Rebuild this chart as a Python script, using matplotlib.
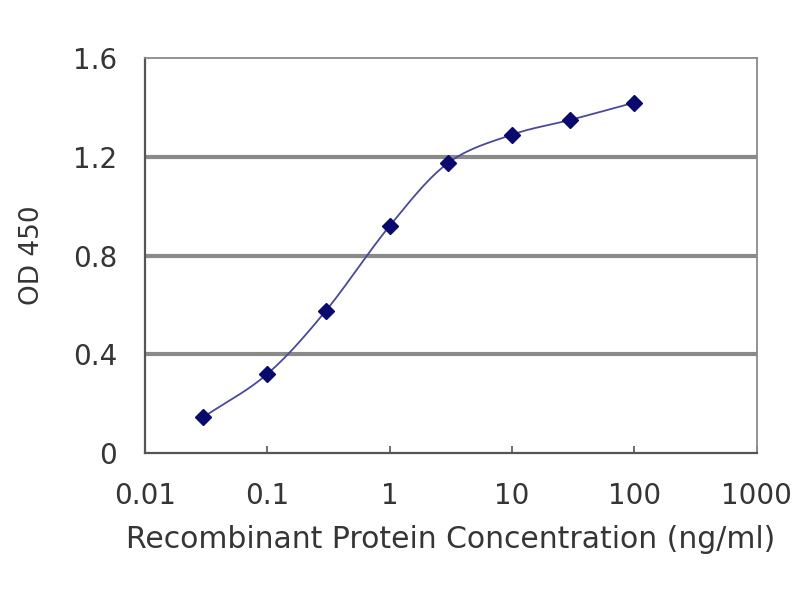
import numpy as np
import matplotlib
matplotlib.use("Agg")
import matplotlib.pyplot as plt

plt.rcParams['font.family'] = ['DejaVu Sans']

# concentration (ng/ml) and OD 450 readings
conc = [0.03, 0.1, 0.3, 1, 3, 10, 30, 100]
od450 = [0.145, 0.32, 0.575, 0.92, 1.175, 1.29, 1.35, 1.42]
xticks = [0.01, 0.1, 1, 10, 100, 1000]
xtick_labels = ['0.01', '0.1', '1', '10', '100', '1000']
yticks = [0, 0.4, 0.8, 1.2, 1.6]
ytick_labels = ['0', '0.4', '0.8', '1.2', '1.6']


def smooth_curve(x, y, n=30):
    # Catmull-Rom style smoothing (like spreadsheet "smoothed line"), done in log-x space
    lx = np.log10(x)
    y = np.asarray(y, dtype=float)
    px = np.concatenate([[2 * lx[0] - lx[1]], lx, [2 * lx[-1] - lx[-2]]])
    py = np.concatenate([[2 * y[0] - y[1]], y, [2 * y[-1] - y[-2]]])
    out_x, out_y = [], []
    t = np.linspace(0, 1, n)
    for i in range(1, len(px) - 2):
        p0x, p1x, p2x, p3x = px[i - 1:i + 3]
        p0y, p1y, p2y, p3y = py[i - 1:i + 3]
        c1x, c1y = p1x + (p2x - p0x) / 6, p1y + (p2y - p0y) / 6
        c2x, c2y = p2x - (p3x - p1x) / 6, p2y - (p3y - p1y) / 6
        bx = (1-t)**3*p1x + 3*(1-t)**2*t*c1x + 3*(1-t)*t**2*c2x + t**3*p2x
        by = (1-t)**3*p1y + 3*(1-t)**2*t*c1y + 3*(1-t)*t**2*c2y + t**3*p2y
        out_x.append(bx)
        out_y.append(by)
    return 10 ** np.concatenate(out_x), np.concatenate(out_y)


fig = plt.figure(figsize=(8, 6), dpi=100)
ax = fig.add_axes([0.181, 0.245, 0.765, 0.658])

ax.set_xscale('log')
ax.set_xlim(0.01, 1000)
ax.set_ylim(0, 1.6)

for yv in yticks[1:-1]:
    ax.axhline(yv, color='#8a8a8a', lw=3.0, zorder=1)

sx, sy = smooth_curve(conc, od450)
ax.plot(sx, sy, color='#4a4a98', lw=1.3, zorder=2)
ax.plot(conc, od450, linestyle='none', marker='D', markersize=8.5,
        color='#0a0a6e', zorder=3)

ax.set_xticks(xticks)
ax.set_xticklabels(xtick_labels)
ax.xaxis.set_minor_locator(matplotlib.ticker.NullLocator())
ax.set_yticks(yticks)
ax.set_yticklabels(ytick_labels)

ax.tick_params(axis='x', direction='in', length=5, width=1.2, color='#555555',
               labelsize=20, labelcolor='#353535', pad=21)
ax.tick_params(axis='y', length=0, labelsize=20, labelcolor='#353535', pad=20)

ax.spines['left'].set_color('#555555')
ax.spines['left'].set_linewidth(1.6)
ax.spines['bottom'].set_color('#555555')
ax.spines['bottom'].set_linewidth(1.6)
ax.spines['top'].set_color('#8a8a8a')
ax.spines['top'].set_linewidth(1.3)
ax.spines['right'].set_color('#8a8a8a')
ax.spines['right'].set_linewidth(1.3)

ax.set_xlabel('Recombinant Protein Concentration (ng/ml)', fontsize=21.5,
              color='#353535', labelpad=11)
ax.set_ylabel('OD 450', fontsize=19, color='#353535', labelpad=20)

fig.savefig('out.png', dpi=100)
